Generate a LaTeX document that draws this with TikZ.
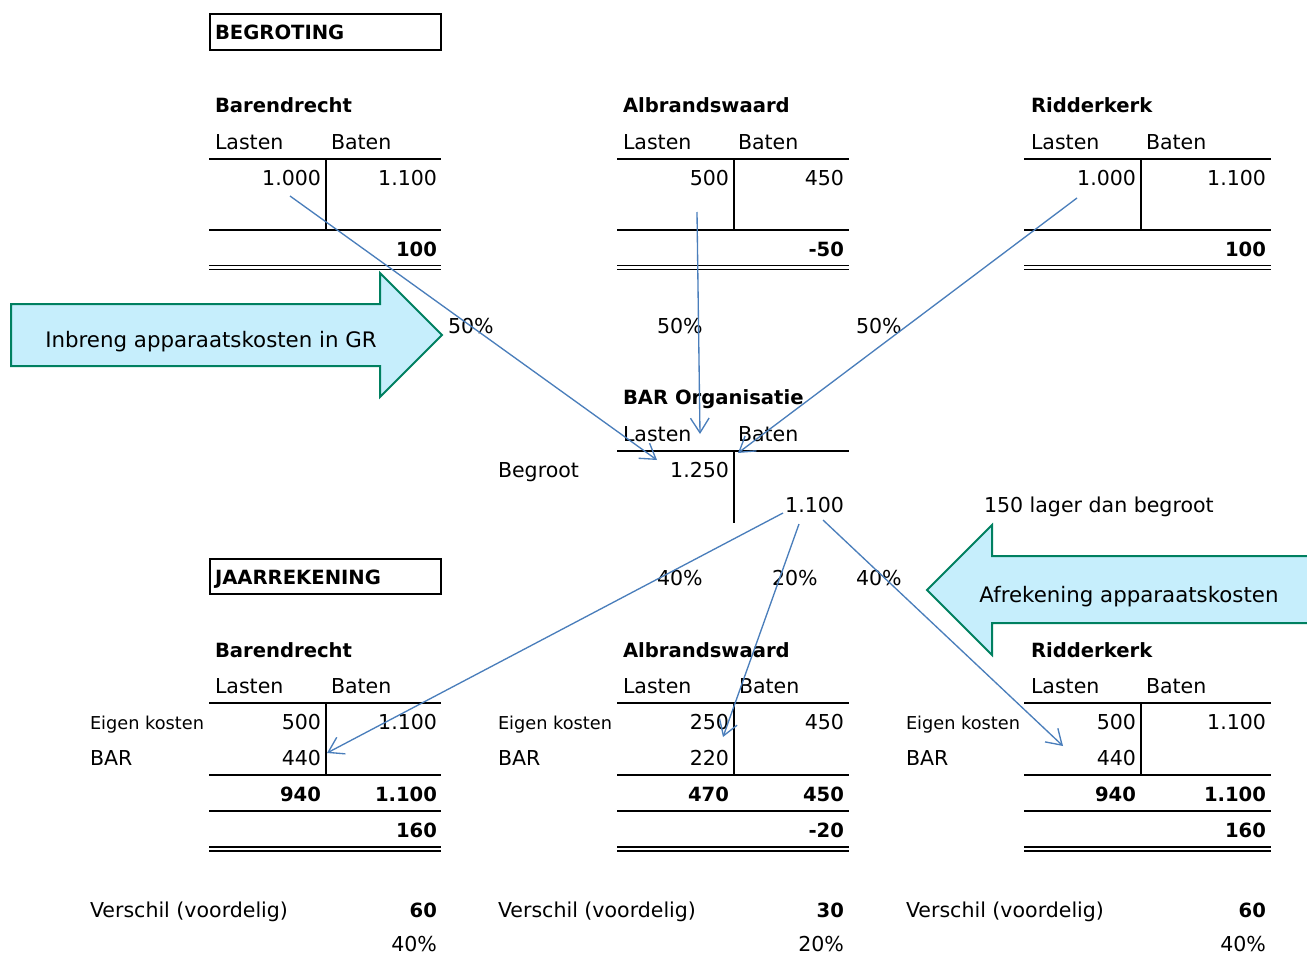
\documentclass[tikz,border=0pt]{standalone}
\usepackage{fontspec}
\setmainfont{DejaVu Sans}
\usetikzlibrary{arrows.meta}
\definecolor{flowblue}{RGB}{74,126,187}
\definecolor{arrowfill}{RGB}{198,238,252}
\definecolor{arrowline}{RGB}{0,128,96}
\begin{document}
\begin{tikzpicture}[x=0.75pt,y=-0.75pt,
  every node/.style={inner sep=0pt, outer sep=0pt, font=\fontsize{15.4}{18}\selectfont},
  lbl/.style={anchor=base west},
  num/.style={anchor=base east},
  bnum/.style={anchor=base east, font=\fontsize{14.7}{18}\selectfont\bfseries},
  ttl/.style={anchor=base west, font=\fontsize{14.7}{18}\selectfont\bfseries},
  smalltxt/.style={anchor=base west, font=\fontsize{13.3}{16}\selectfont},
  bigtxt/.style={anchor=base, font=\fontsize{16}{19}\selectfont},
  acctline/.style={line width=1.5pt},
  dblline/.style={line width=1pt},
  flow/.style={draw=flowblue, line width=1pt, -{Straight Barb[length=11pt,width=14pt]}},
  bigfill/.style={fill=arrowfill},
  bigedge/.style={draw=arrowline, line width=1.5pt, line join=miter}]
\useasboundingbox (0,0) rectangle (1307,956);

% ---------- big block arrows ----------
\path[bigfill] (11,304) -- (380,304) -- (380,273) -- (442,335) -- (380,397) -- (380,366) -- (11,366) -- cycle;
\draw[bigedge] (11,304) -- (380,304) -- (380,273) -- (442,335) -- (380,397) -- (380,366) -- (11,366) -- cycle;
\node[bigtxt] (inbreng) at (211,347) {Inbreng apparaatskosten in GR};

\path[bigfill] (1307,556) -- (992,556) -- (992,525) -- (927,590) -- (992,655) -- (992,623) -- (1307,623) -- cycle;
\draw[bigedge] (1307,556) -- (992,556) -- (992,525) -- (927,590) -- (992,655) -- (992,623) -- (1307,623);
\node[bigtxt] (afrek) at (1129,602) {Afrekening apparaatskosten};

% ---------- headings ----------
\draw[acctline] (210,14) rectangle (441,50);
\node[ttl] (begroting) at (215,39.5) {BEGROTING};
\draw[acctline] (210,559) rectangle (441,594);
\node[ttl] (jaarrek) at (215,584.5) {JAARREKENING};

% ---------- BEGROTING: Barendrecht ----------
\node[ttl] (tbT) at (215,113) {Barendrecht};
\node[lbl] (tbL) at (215,149) {Lasten};
\node[lbl] (tbB) at (331,149) {Baten};
\node[num] (tbLv) at (321,185) {1.000};
\node[num] (tbBv) at (437,185) {1.100};
\node[bnum] (tbS) at (437,256) {100};
\draw[acctline] (209,159) -- (441,159) (326,159) -- (326,230) (209,230) -- (441,230);
\draw[dblline] (209,265.5) -- (441,265.5) (209,269.5) -- (441,269.5);

% ---------- BEGROTING: Albrandswaard ----------
\node[ttl] (taT) at (623,113) {Albrandswaard};
\node[lbl] (taL) at (623,149) {Lasten};
\node[lbl] (taB) at (738,149) {Baten};
\node[num] (taLv) at (729,185) {500};
\node[num] (taBv) at (844,185) {450};
\node[bnum] (taS) at (844,256) {-50};
\draw[acctline] (617,159) -- (849,159) (734,159) -- (734,230) (617,230) -- (849,230);
\draw[dblline] (617,265.5) -- (849,265.5) (617,269.5) -- (849,269.5);

% ---------- BEGROTING: Ridderkerk ----------
\node[ttl] (trT) at (1031,113) {Ridderkerk};
\node[lbl] (trL) at (1031,149) {Lasten};
\node[lbl] (trB) at (1146,149) {Baten};
\node[num] (trLv) at (1136,185) {1.000};
\node[num] (trBv) at (1266,185) {1.100};
\node[bnum] (trS) at (1266,256) {100};
\draw[acctline] (1024,159) -- (1271,159) (1141,159) -- (1141,230) (1024,230) -- (1271,230);
\draw[dblline] (1024,265.5) -- (1271,265.5) (1024,269.5) -- (1271,269.5);

% ---------- percentages ----------
\node[lbl] (p1) at (448,333) {50\%};
\node[lbl] (p2) at (657,333) {50\%};
\node[lbl] (p3) at (856,333) {50\%};
\node[lbl] (p4) at (657,585) {40\%};
\node[lbl] (p5) at (772,585) {20\%};
\node[lbl] (p6) at (856,585) {40\%};

% ---------- BAR Organisatie ----------
\node[ttl] (bT) at (623,404) {BAR Organisatie};
\node[lbl] (bL) at (623,441) {Lasten};
\node[lbl] (bB) at (738,441) {Baten};
\node[lbl] (begroot) at (498,477) {Begroot};
\node[num] (bLv) at (729,477) {1.250};
\node[num] (bBv) at (844,512) {1.100};
\node[lbl] (lager) at (984,512) {150 lager dan begroot};
\draw[acctline] (617,451) -- (849,451) (734,451) -- (734,523);

% ---------- JAARREKENING: Barendrecht ----------
\node[ttl] (jbT) at (215,657) {Barendrecht};
\node[lbl] (jbL) at (215,693) {Lasten};
\node[lbl] (jbB) at (331,693) {Baten};
\node[smalltxt] (jbE) at (90,729) {Eigen kosten};
\node[lbl] (jbBAR) at (90,765) {BAR};
\node[num] (jbL1) at (321,729) {500};
\node[num] (jbB1) at (437,729) {1.100};
\node[num] (jbL2) at (321,765) {440};
\node[bnum] (jbLt) at (321,801) {940};
\node[bnum] (jbBt) at (437,801) {1.100};
\node[bnum] (jbS) at (437,837) {160};
\draw[acctline] (209,703) -- (441,703) (326,703) -- (326,776) (209,775) -- (441,775) (209,811) -- (441,811);
\draw[dblline] (209,847) -- (441,847) (209,851) -- (441,851);
\node[lbl] (jbV) at (90,917) {Verschil (voordelig)};
\node[bnum] (jbVv) at (437,917) {60};
\node[num] (jbP) at (437,951) {40\%};

% ---------- JAARREKENING: Albrandswaard ----------
\node[ttl] (jaT) at (623,657) {Albrandswaard};
\node[lbl] (jaL) at (623,693) {Lasten};
\node[lbl] (jaB) at (739,693) {Baten};
\node[smalltxt] (jaE) at (498,729) {Eigen kosten};
\node[lbl] (jaBAR) at (498,765) {BAR};
\node[num] (jaL1) at (729,729) {250};
\node[num] (jaB1) at (844,729) {450};
\node[num] (jaL2) at (729,765) {220};
\node[bnum] (jaLt) at (729,801) {470};
\node[bnum] (jaBt) at (844,801) {450};
\node[bnum] (jaS) at (844,837) {-20};
\draw[acctline] (617,703) -- (849,703) (734,703) -- (734,776) (617,775) -- (849,775) (617,811) -- (849,811);
\draw[dblline] (617,847) -- (849,847) (617,851) -- (849,851);
\node[lbl] (jaV) at (498,917) {Verschil (voordelig)};
\node[bnum] (jaVv) at (844,917) {30};
\node[num] (jaP) at (844,951) {20\%};

% ---------- JAARREKENING: Ridderkerk ----------
\node[ttl] (jrT) at (1031,657) {Ridderkerk};
\node[lbl] (jrL) at (1031,693) {Lasten};
\node[lbl] (jrB) at (1146,693) {Baten};
\node[smalltxt] (jrE) at (906,729) {Eigen kosten};
\node[lbl] (jrBAR) at (906,765) {BAR};
\node[num] (jrL1) at (1136,729) {500};
\node[num] (jrB1) at (1266,729) {1.100};
\node[num] (jrL2) at (1136,765) {440};
\node[bnum] (jrLt) at (1136,801) {940};
\node[bnum] (jrBt) at (1266,801) {1.100};
\node[bnum] (jrS) at (1266,837) {160};
\draw[acctline] (1024,703) -- (1271,703) (1141,703) -- (1141,776) (1024,775) -- (1271,775) (1024,811) -- (1271,811);
\draw[dblline] (1024,847) -- (1271,847) (1024,851) -- (1271,851);
\node[lbl] (jrV) at (906,917) {Verschil (voordelig)};
\node[bnum] (jrVv) at (1266,917) {60};
\node[num] (jrP) at (1266,951) {40\%};

% ---------- flow connectors ----------
\coordinate (f1s) at (290,196);  \coordinate (f1e) at (657,460);
\coordinate (f2s) at (697,212);  \coordinate (f2e) at (700,434);
\coordinate (f3s) at (1077,198); \coordinate (f3e) at (738,453);
\coordinate (f4s) at (783,513);  \coordinate (f4e) at (327,753);
\coordinate (f5s) at (799,524);  \coordinate (f5e) at (723,737);
\coordinate (f6s) at (823,520);  \coordinate (f6e) at (1063,746);
\draw[flow] (f1s) -- (f1e);
\draw[flow] (f2s) -- (f2e);
\draw[flow] (f3s) -- (f3e);
\draw[flow] (f4s) -- (f4e);
\draw[flow] (f5s) -- (f5e);
\draw[flow] (f6s) -- (f6e);
\end{tikzpicture}
\end{document}
